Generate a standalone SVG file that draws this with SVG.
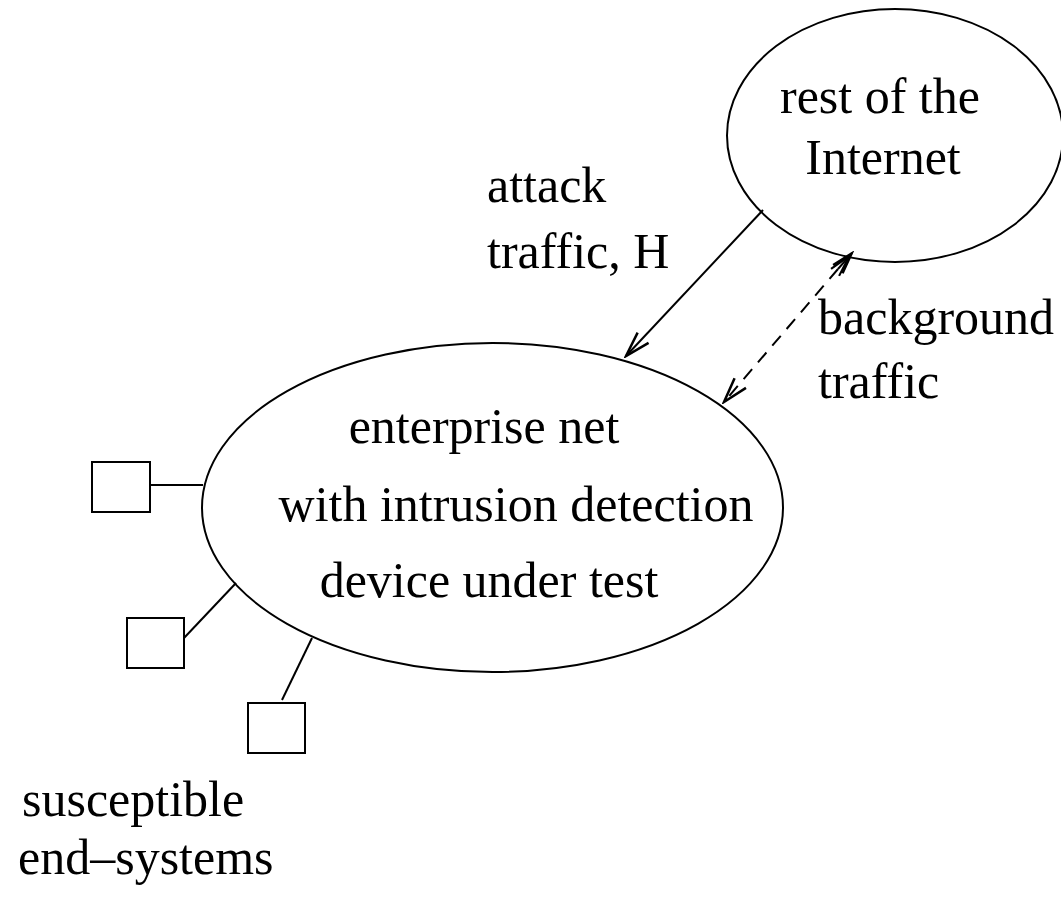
<svg xmlns="http://www.w3.org/2000/svg" width="1061" height="899" viewBox="0 0 1061 899">
<style>
.s{fill:none;stroke:#000;stroke-width:2}
.t{font-family:"Liberation Serif","Times New Roman",serif;font-size:50px;fill:#000}
.m{text-anchor:middle}
</style>
<defs>
<marker id="ah" markerWidth="30" markerHeight="20" refX="0" refY="0" viewBox="-22 -8 24 16" orient="auto" markerUnits="userSpaceOnUse">
<path d="M-20,-6 L0,0 L-20,6" fill="none" stroke="#000" stroke-width="2"/>
</marker>
<marker id="ah2" markerWidth="30" markerHeight="20" refX="0" refY="0" viewBox="-26 -8 28 16" orient="auto" markerUnits="userSpaceOnUse">
<path d="M-20,-6 L0,0 L-20,6 M-24,-5 L-4,0 L-24,5" fill="none" stroke="#000" stroke-width="2"/>
</marker>
</defs>
<rect width="1061" height="899" fill="#fff"/>
<g id="internet">
<ellipse class="s" cx="895" cy="135.5" rx="168" ry="126.5"/>
<text class="t m" x="880" y="113">rest of the</text>
<text class="t m" x="883" y="174">Internet</text>
</g>
<g id="enterprise">
<ellipse class="s" cx="492.5" cy="507.5" rx="290.5" ry="164.5"/>
<text class="t m" x="484" y="443">enterprise net</text>
<text class="t m" x="516" y="521">with intrusion detection</text>
<text class="t m" x="489" y="597">device under test</text>
</g>
<g id="host1"><rect class="s" x="92" y="462" width="58" height="50"/></g>
<g id="host2"><rect class="s" x="127" y="618" width="57" height="50"/></g>
<g id="host3"><rect class="s" x="248" y="703" width="57" height="50"/></g>
<g id="connectors">
<line class="s" x1="150" y1="485" x2="203" y2="485"/>
<line class="s" x1="184" y1="638" x2="236" y2="583"/>
<line class="s" x1="282" y1="700" x2="312" y2="638"/>
<line class="s" x1="763" y1="210" x2="626" y2="356" marker-end="url(#ah)"/>
<line class="s" x1="838" y1="269" x2="724" y2="402" stroke-dasharray="13,9" marker-end="url(#ah)"/>
<line class="s" x1="838" y1="269" x2="852" y2="253" marker-end="url(#ah2)"/>
</g>
<g id="labels">
<text class="t" x="487" y="202">attack</text>
<text class="t" x="487" y="268">traffic, H</text>
<text class="t" x="818" y="334">background</text>
<text class="t" x="818" y="398">traffic</text>
<text class="t" x="22" y="816">susceptible</text>
<text class="t" x="18" y="874">end–systems</text>
</g>
</svg>
